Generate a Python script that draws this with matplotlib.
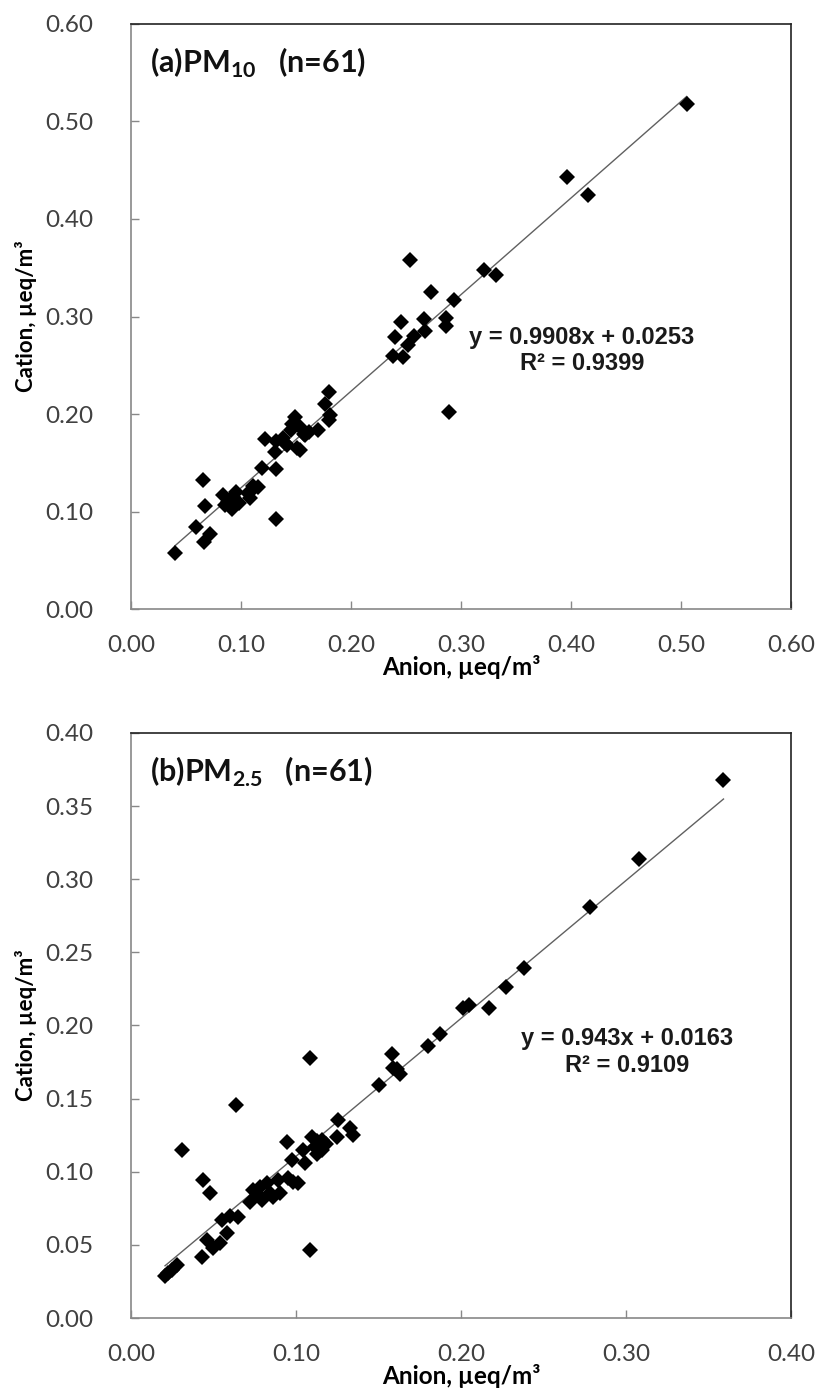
import numpy as np
import matplotlib
matplotlib.use("Agg")
import matplotlib.pyplot as plt

plt.rcParams["font.family"] = ["Lato", "DejaVu Sans"]
plt.rcParams["mathtext.fontset"] = "custom"
plt.rcParams["mathtext.rm"] = "Lato"
plt.rcParams["mathtext.bf"] = "Lato:bold"

# ----- DATA: (a) PM10 -----
pm10_anion = [0.254, 0.321, 0.332, 0.273, 0.294, 0.245, 0.266, 0.286, 0.286, 0.240,
              0.257, 0.267, 0.252, 0.238, 0.247, 0.289,
              0.180, 0.176, 0.181, 0.180, 0.149, 0.170, 0.154, 0.145, 0.157, 0.138,
              0.122, 0.132, 0.151, 0.154, 0.142, 0.131, 0.119, 0.132, 0.065, 0.111,
              0.106, 0.115, 0.108, 0.095, 0.084, 0.090, 0.085, 0.092, 0.067, 0.132,
              0.059, 0.072, 0.066, 0.040,
              0.396, 0.415, 0.505,
              0.088, 0.098, 0.146, 0.158, 0.162, 0.140, 0.110, 0.093]
pm10_cation = [0.358, 0.348, 0.343, 0.325, 0.317, 0.294, 0.297, 0.298, 0.290, 0.279,
               0.280, 0.285, 0.271, 0.259, 0.258, 0.202,
               0.223, 0.210, 0.199, 0.194, 0.197, 0.184, 0.187, 0.184, 0.180, 0.175,
               0.174, 0.172, 0.165, 0.163, 0.168, 0.161, 0.145, 0.144, 0.132, 0.126,
               0.119, 0.125, 0.114, 0.120, 0.117, 0.112, 0.107, 0.103, 0.106, 0.092,
               0.084, 0.077, 0.069, 0.057,
               0.443, 0.425, 0.518,
               0.110, 0.109, 0.190, 0.178, 0.182, 0.170, 0.122, 0.115]

# ----- DATA: (b) PM2.5 -----
pm25_anion = [0.359, 0.308, 0.278, 0.238, 0.227, 0.201, 0.205, 0.217, 0.187, 0.180,
              0.158, 0.159, 0.163, 0.161, 0.150,
              0.1085, 0.0636, 0.0307, 0.1256, 0.1327, 0.1347, 0.125, 0.0944, 0.1095, 0.1156,
              0.1115, 0.1156, 0.1044, 0.0974, 0.1055, 0.0953, 0.1014, 0.0984, 0.0438, 0.0479,
              0.0893, 0.0822, 0.0782, 0.0741, 0.0842, 0.0903, 0.0792, 0.0721, 0.0862, 0.055,
              0.060, 0.065, 0.058, 0.054, 0.0459, 0.0499, 0.0428, 0.1085, 0.0277, 0.0247,
              0.0206,
              0.1125, 0.118, 0.077, 0.0225, 0.1125]
pm25_cation = [0.368, 0.314, 0.281, 0.239, 0.2266, 0.2117, 0.214, 0.212, 0.194, 0.186,
               0.1805, 0.1707, 0.167, 0.170, 0.159,
               0.178, 0.1456, 0.115, 0.1354, 0.1297, 0.125, 0.124, 0.1206, 0.124, 0.1217,
               0.117, 0.115, 0.115, 0.108, 0.1058, 0.0955, 0.092, 0.0932, 0.0944, 0.0857,
               0.0944, 0.092, 0.0898, 0.0875, 0.0853, 0.0853, 0.0807, 0.0796, 0.083, 0.067,
               0.0697, 0.0693, 0.058, 0.0515, 0.0533, 0.0476, 0.042, 0.0465, 0.0362, 0.0328,
               0.0287,
               0.121, 0.119, 0.084, 0.031, 0.112]

panels = [
    dict(x=pm10_anion, y=pm10_cation, slope=0.9908, icept=0.0253,
         eq="y = 0.9908x + 0.0253", r2="R² = 0.9399",
         label=r"(a)PM$_{\mathbf{10}}$   (n=61)",
         lim=0.60, step=0.10, ystep=0.10, eqpos=(0.683, 0.419),
         rect=[0.160, 0.5631, 0.806, 0.4197]),
    dict(x=pm25_anion, y=pm25_cation, slope=0.943, icept=0.0163,
         eq="y = 0.943x + 0.0163", r2="R² = 0.9109",
         label=r"(b)PM$_{\mathbf{2.5}}$   (n=61)",
         lim=0.40, step=0.10, ystep=0.05, eqpos=(0.752, 0.432),
         rect=[0.160, 0.0545, 0.806, 0.4197]),
]

fig = plt.figure(figsize=(8.19, 13.94), dpi=100)

for p in panels:
    ax = fig.add_axes(p["rect"])
    x = np.array(p["x"])
    y = np.array(p["y"])

    # linear trendline over the data range
    xl = np.array([x.min(), x.max()])
    ax.plot(xl, p["slope"] * xl + p["icept"], color="#606060", lw=1.0, zorder=2)
    ax.plot(x, y, "D", color="black", markersize=8.5, mew=0, zorder=3)

    ax.set_xlim(0, p["lim"])
    ax.set_ylim(0, p["lim"])
    ax.set_xticks(np.arange(0, p["lim"] + 1e-9, p["step"]))
    ax.set_yticks(np.arange(0, p["lim"] + 1e-9, p["ystep"]))
    ax.xaxis.set_major_formatter(matplotlib.ticker.FormatStrFormatter("%.2f"))
    ax.yaxis.set_major_formatter(matplotlib.ticker.FormatStrFormatter("%.2f"))

    ax.tick_params(axis="both", direction="in", length=6, width=1,
                   color="#888888", labelcolor="#404040", labelsize=17.5)
    ax.tick_params(axis="x", pad=19)
    ax.tick_params(axis="y", pad=27)

    for side in ["left", "bottom"]:
        ax.spines[side].set_color("#888888")
        ax.spines[side].set_linewidth(1.2)
    for side in ["top", "right"]:
        ax.spines[side].set_color("#222222")
        ax.spines[side].set_linewidth(1.2)

    ax.set_xlabel("Anion, µeq/m³", fontsize=17.5, fontweight="bold", labelpad=-1)
    ax.set_ylabel("Cation, µeq/m³", fontsize=16, fontweight="bold", labelpad=6)

    ax.text(0.028, 0.962, p["label"], transform=ax.transAxes, ha="left", va="top",
            fontsize=22, fontweight="bold", color="#111111")
    ax.text(p["eqpos"][0], p["eqpos"][1] + 0.045, p["eq"], transform=ax.transAxes,
            ha="center", va="center", fontsize=17, fontweight="bold",
            family="Liberation Sans", color="#1a1a1a")
    ax.text(p["eqpos"][0], p["eqpos"][1], p["r2"], transform=ax.transAxes,
            ha="center", va="center", fontsize=17, fontweight="bold",
            family="Liberation Sans", color="#1a1a1a")

fig.savefig("out.png", dpi=100)
